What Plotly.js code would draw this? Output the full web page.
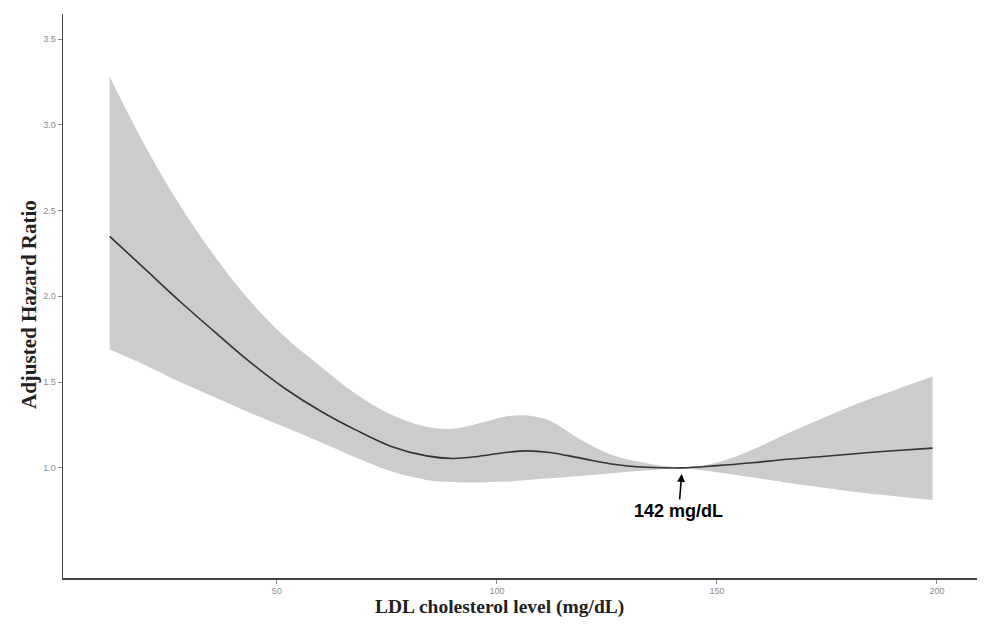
<!DOCTYPE html>
<html>
<head>
<meta charset="utf-8">
<script src="https://cdn.plot.ly/plotly-3.0.1.min.js"></script>
<style>
  html, body { margin: 0; padding: 0; background: #fff; }
  #chart { width: 1000px; height: 641px; }
</style>
</head>
<body>
<div id="chart"></div>
<script>
'use strict';

// LDL level (mg/dL) and the fitted hazard ratio with its 95% band
var ldl   = [12, 20, 28, 36, 44, 52, 60, 68, 76, 84, 90, 96, 102, 107, 112, 119, 126, 134, 142, 150, 158, 166, 174, 182, 190, 199];
var hr    = [2.35, 2.16, 1.97, 1.79, 1.615, 1.46, 1.33, 1.22, 1.125, 1.07, 1.055, 1.068, 1.09, 1.099, 1.09, 1.057, 1.023, 1.004, 1.0, 1.013, 1.03, 1.05, 1.066, 1.084, 1.10, 1.115];
var upper = [3.28, 2.88, 2.53, 2.23, 1.97, 1.76, 1.59, 1.43, 1.31, 1.24, 1.228, 1.26, 1.30, 1.305, 1.275, 1.165, 1.076, 1.027, 1.004, 1.03, 1.105, 1.20, 1.29, 1.375, 1.45, 1.533];
var lower = [1.69, 1.60, 1.50, 1.41, 1.32, 1.235, 1.15, 1.06, 0.98, 0.93, 0.918, 0.915, 0.92, 0.93, 0.94, 0.953, 0.969, 0.984, 0.997, 0.975, 0.945, 0.914, 0.885, 0.858, 0.836, 0.813];

var xTicks = [50, 100, 150, 200];
var yTicks = [1.0, 1.5, 2.0, 2.5, 3.0, 3.5];

var refLdl = 142;
var refLabel = '142 mg/dL';

var band = '#cccccc';

var traces = [
    {
        x: ldl, y: lower,
        mode: 'lines', line: {width: 0, shape: 'spline', color: band},
        hoverinfo: 'skip', showlegend: false
    },
    {
        x: ldl, y: upper,
        mode: 'lines', line: {width: 0, shape: 'spline', color: band},
        fill: 'tonexty', fillcolor: band,
        hoverinfo: 'skip', showlegend: false
    },
    {
        x: ldl, y: hr,
        mode: 'lines', line: {width: 1.6, shape: 'spline', color: '#333333'},
        showlegend: false
    }
];

var axisCommon = {
    showgrid: false,
    zeroline: false,
    showline: true,
    linecolor: '#444444',
    linewidth: 1.5,
    ticks: 'outside',
    ticklen: 4,
    tickwidth: 1,
    tickcolor: '#888888',
    tickfont: {family: 'Liberation Sans, Arial, sans-serif', size: 9, color: '#8a8a8a'}
};

var titleFont = {family: 'Liberation Serif, Times New Roman, serif', color: '#222222', weight: 'bold'};

var layout = {
    width: 1000,
    height: 641,
    margin: {l: 63, r: 23, t: 14, b: 63},
    paper_bgcolor: '#ffffff',
    plot_bgcolor: '#ffffff',
    xaxis: Object.assign({}, axisCommon, {
        range: [1.4, 209.1],
        tickvals: xTicks,
        ticktext: xTicks.map(String)
    }),
    yaxis: Object.assign({}, axisCommon, {
        range: [0.358, 3.646],
        tickvals: yTicks,
        ticktext: yTicks.map(function(v){ return v.toFixed(1); })
    }),
    annotations: [
        {
            // x axis title, sits a bit left of the panel centre in the original
            xref: 'paper', yref: 'paper',
            x: 0.478, y: 0,
            xanchor: 'center', yanchor: 'middle',
            yshift: -29,
            text: 'LDL cholesterol level (mg/dL)',
            showarrow: false,
            font: Object.assign({size: 19.5}, titleFont)
        },
        {
            xref: 'paper', yref: 'paper',
            x: 0, y: 0.484,
            xanchor: 'center', yanchor: 'middle',
            xshift: -34,
            textangle: -90,
            text: 'Adjusted Hazard Ratio',
            showarrow: false,
            font: Object.assign({size: 21}, titleFont)
        },
        {
            x: refLdl, y: 0.965,
            xref: 'x', yref: 'y',
            text: '<b>' + refLabel + '</b>',
            showarrow: true,
            arrowhead: 2,
            arrowsize: 1,
            arrowwidth: 1.6,
            arrowcolor: '#000000',
            ax: -3, ay: 37,
            font: {family: 'Liberation Sans, Arial, sans-serif', size: 18, color: '#000000'}
        }
    ]
};

Plotly.newPlot('chart', traces, layout, {displayModeBar: false, staticPlot: true});
</script>
</body>
</html>
